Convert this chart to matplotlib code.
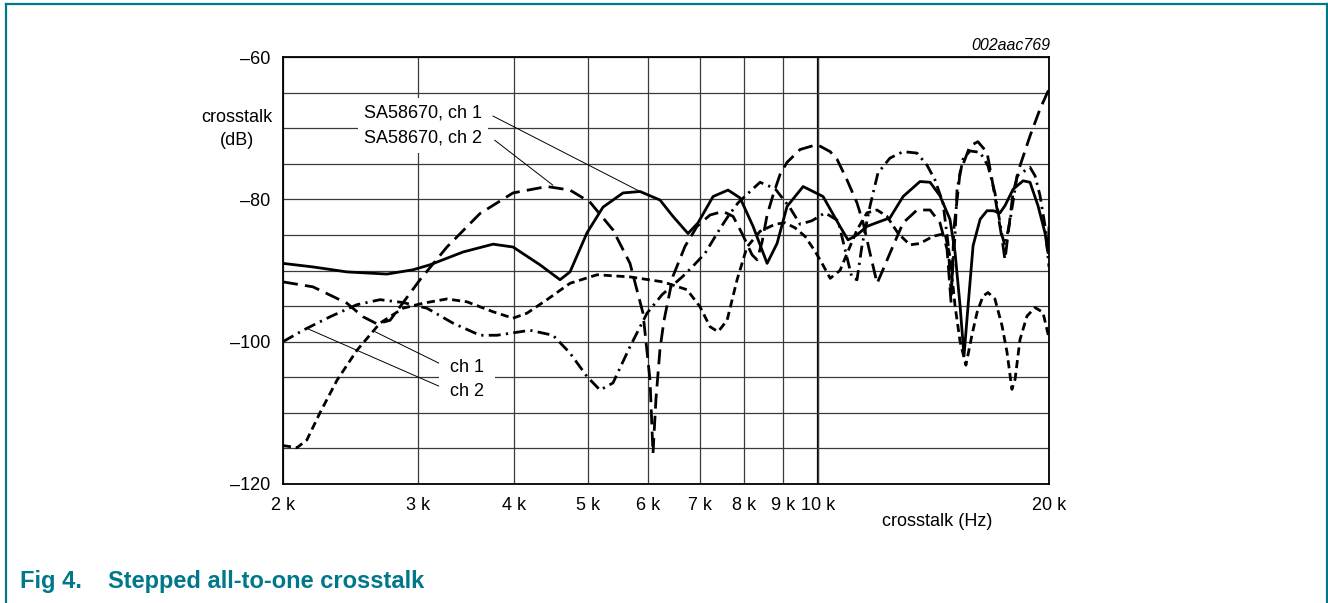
import matplotlib
matplotlib.use("Agg")
import matplotlib.pyplot as plt
from matplotlib.lines import Line2D
from matplotlib.ticker import FixedLocator, NullLocator

plt.rcParams['font.family'] = ['Liberation Sans', 'DejaVu Sans']

# frequency in kHz, crosstalk in dB

# SA58670, ch 1 (solid)
sa_ch1_f = [2.000, 2.189, 2.424, 2.734, 2.956, 3.111, 3.436, 3.761, 3.993, 4.330,
            4.599, 4.739, 4.988, 5.233, 5.558, 5.850, 6.212, 6.459, 6.757, 6.964,
            7.286, 7.621, 7.902, 8.217, 8.571, 8.831, 9.100, 9.551, 10.14, 10.67,
            10.93, 11.23, 11.57, 12.04, 12.40, 12.90, 13.57, 13.99, 14.41, 14.85,
            15.08, 15.31, 15.49, 15.68, 15.92, 16.26, 16.60, 16.90, 17.26, 17.52,
            17.95, 18.50, 18.89, 19.35, 19.76, 19.94, 20.0]
sa_ch1_db = [-89.0, -89.5, -90.2, -90.5, -89.9, -89.2, -87.4, -86.3, -86.7, -89.2,
             -91.3, -90.2, -84.7, -81.1, -79.1, -78.9, -80.1, -82.4, -84.8, -83.3,
             -79.6, -78.7, -79.8, -83.8, -89.0, -86.2, -81.0, -78.2, -79.6, -83.8,
             -85.7, -85.0, -83.8, -83.1, -82.6, -79.6, -77.5, -77.6, -79.5, -82.8,
             -87.5, -95.0, -102.0, -95.0, -86.5, -82.8, -81.6, -81.6, -81.9, -80.9,
             -78.6, -77.4, -77.6, -80.9, -84.7, -87.5, -84.0]

# SA58670, ch 2 (long dash)
sa_ch2_f = [2.000, 2.189, 2.424, 2.544, 2.653, 2.759, 3.019, 3.274, 3.615, 3.993,
            4.422, 4.739, 5.033, 5.393, 5.676, 5.902, 6.028, 6.082, 6.137, 6.212,
            6.287, 6.459, 6.697, 6.943, 7.219, 7.508, 7.738, 7.949, 8.192, 8.316,
            8.442, 8.571, 8.726, 8.911, 9.100, 9.463, 9.959, 10.36, 10.58, 10.90,
            11.23, 11.44, 11.68, 11.93, 12.14, 12.51, 12.90, 13.45, 13.99, 14.41,
            14.72, 14.90, 15.03, 15.31, 15.77, 16.15, 16.60, 16.85, 17.11, 17.37,
            17.52, 17.68, 17.95, 18.33, 18.89, 19.47, 20.0]
sa_ch2_db = [-91.6, -92.3, -94.6, -96.5, -97.5, -97.0, -91.3, -86.7, -82.0, -79.1,
             -78.2, -78.7, -80.4, -84.3, -89.0, -96.0, -105.4, -115.7, -108.0, -101.0,
             -97.0, -90.8, -86.6, -83.8, -82.2, -81.7, -82.4, -84.8, -87.8, -88.5,
             -86.0, -82.2, -79.4, -76.5, -74.8, -73.0, -72.3, -73.3, -74.4, -77.3,
             -80.5, -83.3, -87.6, -91.8, -89.9, -86.6, -83.3, -81.5, -81.5, -83.3,
             -87.0, -94.5, -84.0, -76.2, -72.5, -71.9, -73.4, -77.2, -81.4, -85.6,
             -88.5, -85.0, -79.1, -75.3, -71.1, -67.3, -64.5]

# ch 1 (short dash)
ch1_f = [2.000, 2.086, 2.149, 2.235, 2.353, 2.498, 2.677, 2.869, 3.046, 3.274,
         3.477, 3.761, 3.993, 4.164, 4.422, 4.739, 5.140, 5.676, 6.268, 6.737,
         7.006, 7.219, 7.397, 7.599, 7.831, 8.068, 8.390, 8.779, 9.045, 9.321,
         9.606, 9.899, 10.11, 10.36, 10.67, 10.90, 11.23, 11.57, 11.93, 12.29,
         12.71, 13.17, 13.57, 14.11, 14.63, 14.85, 15.08, 15.31, 15.58, 15.87,
         16.11, 16.40, 16.65, 17.00, 17.37, 17.63, 17.89, 18.06, 18.33, 18.72,
         19.18, 19.64, 20.0]
ch1_db = [-114.6, -114.9, -113.8, -110.0, -105.4, -101.2, -97.4, -95.3, -94.6, -94.0,
          -94.4, -95.8, -96.7, -96.0, -94.1, -91.8, -90.6, -90.9, -91.6, -92.7,
          -95.1, -97.9, -98.6, -97.0, -91.3, -86.7, -84.5, -83.5, -83.3, -84.0,
          -85.2, -87.3, -89.0, -91.1, -90.0, -87.6, -84.3, -81.9, -81.5, -82.4,
          -84.8, -86.4, -86.2, -85.2, -84.8, -88.0, -95.0, -100.0, -103.3, -99.0,
          -95.9, -93.6, -93.1, -94.0, -97.8, -101.5, -106.7, -105.3, -99.7, -96.4,
          -95.2, -95.9, -99.5]

# ch 2 (dash-dot)
ch2_f = [2.000, 2.124, 2.304, 2.498, 2.677, 2.869, 3.083, 3.334, 3.615, 3.805,
         4.202, 4.503, 4.739, 4.988, 5.187, 5.393, 5.676, 5.974, 6.250, 6.656,
         6.858, 7.110, 7.441, 7.621, 7.853, 8.143, 8.390, 8.779, 9.182, 9.463,
         9.811, 10.20, 10.61, 10.83, 11.06, 11.23, 11.40, 11.68, 11.96, 12.40,
         12.90, 13.45, 13.86, 14.20, 14.54, 14.76, 14.90, 15.08, 15.17, 15.44,
         15.77, 16.26, 16.65, 17.00, 17.37, 17.52, 17.79, 18.17, 18.89, 19.18,
         19.47, 19.76, 20.0]
ch2_db = [-100.0, -98.4, -96.5, -94.8, -94.1, -94.5, -95.3, -97.4, -99.1, -99.1,
          -98.4, -99.1, -101.6, -104.9, -106.8, -105.8, -100.7, -96.0, -93.4, -90.8,
          -89.4, -87.6, -84.1, -82.4, -80.5, -78.9, -77.6, -78.5, -81.2, -83.5,
          -83.0, -81.9, -83.0, -87.0, -91.0, -91.3, -86.5, -80.9, -76.3, -74.2,
          -73.3, -73.5, -75.2, -77.3, -80.5, -86.0, -93.0, -85.0, -78.6, -74.4,
          -73.2, -73.4, -75.3, -79.1, -85.1, -86.5, -83.0, -76.7, -75.5, -76.7,
          -79.5, -83.7, -89.5]

x_ticks = [2, 3, 4, 5, 6, 7, 8, 9, 10, 20]
x_labels = ["2 k", "3 k", "4 k", "5 k", "6 k", "7 k", "8 k", "9 k", "10 k", "20 k"]
y_ticks = [-120, -100, -80, -60]
y_labels = ["\u2013120", "\u2013100", "\u201380", "\u201360"]

W, H = 1328, 603
teal = "#00778B"


def fx(px):
    return px / W


def fy(py):
    return 1 - py / H


fig = plt.figure(figsize=(W / 100, H / 100), dpi=100)
ax = fig.add_axes([fx(283), fy(484), 766 / W, 427 / H])

ax.set_xscale("log")
ax.set_xlim(2, 20)
ax.set_ylim(-120, -60)

ax.xaxis.set_major_locator(FixedLocator(x_ticks))
ax.xaxis.set_minor_locator(NullLocator())
ax.set_xticklabels(x_labels)
ax.set_yticks(y_ticks)
ax.set_yticklabels(y_labels)
ax.yaxis.set_minor_locator(FixedLocator(list(range(-115, -60, 5))))
ax.tick_params(axis="both", which="both", length=0, labelsize=13)
ax.tick_params(axis="x", pad=9)
ax.tick_params(axis="y", pad=9)

ax.grid(True, which="both", color="#3a3a3a", linewidth=0.9)
ax.axvline(10, color="black", linewidth=1.6, zorder=1)
for s in ax.spines.values():
    s.set_linewidth(1.3)
    s.set_color("black")

lw = 2.0
ax.plot(sa_ch1_f, sa_ch1_db, color="black", lw=lw, linestyle="-", zorder=3)
ax.plot(sa_ch2_f, sa_ch2_db, color="black", lw=lw, linestyle=(0, (5.4, 2.6)), zorder=3)
ax.plot(ch1_f, ch1_db, color="black", lw=lw, linestyle=(0, (2.9, 1.7)), zorder=3)
ax.plot(ch2_f, ch2_db, color="black", lw=lw, linestyle=(0, (4.3, 1.9, 0.8, 1.9)), zorder=3)

# leader lines
ax.plot([3.76, 5.85], [-68.3, -78.9], color="black", lw=0.7, zorder=2)
ax.plot([3.78, 4.50], [-71.7, -78.0], color="black", lw=0.7, zorder=2)
ax.plot([3.235, 2.637], [-103.3, -98.6], color="black", lw=0.7, zorder=2)
ax.plot([3.235, 2.156], [-106.5, -98.2], color="black", lw=0.7, zorder=2)

box = dict(boxstyle="square,pad=0.35", fc="white", ec="none")
fig.text(fx(364), fy(113), "SA58670, ch 1", fontsize=13, va="center", ha="left", bbox=box)
fig.text(fx(364), fy(138), "SA58670, ch 2", fontsize=13, va="center", ha="left", bbox=box)
box2 = dict(boxstyle="square,pad=0.6", fc="white", ec="none")
fig.text(fx(450), fy(367), "ch 1", fontsize=13, va="center", ha="left", bbox=box2)
fig.text(fx(450), fy(391), "ch 2", fontsize=13, va="center", ha="left", bbox=box2)

fig.text(fx(237), fy(118), "crosstalk", fontsize=13, va="center", ha="center")
fig.text(fx(237), fy(140), "(dB)", fontsize=13, va="center", ha="center")
fig.text(fx(937), fy(522), "crosstalk (Hz)", fontsize=13, va="center", ha="center")
fig.text(fx(1050), fy(45), "002aac769", fontsize=11.5, style="italic",
         va="center", ha="right")

fig.text(fx(20), fy(588), "Fig 4.", fontsize=17, fontweight="bold", color=teal,
         va="baseline", ha="left")
fig.text(fx(108), fy(588), "Stepped all-to-one crosstalk", fontsize=17,
         fontweight="bold", color=teal, va="baseline", ha="left")

# frame around the figure
for xs, ys in [([6, 1327], [4, 4]), ([6, 6], [4, 603]), ([1327, 1327], [4, 603])]:
    fig.add_artist(Line2D([fx(v) for v in xs], [fy(v) for v in ys],
                          color=teal, linewidth=1.6))

fig.savefig("out.png", dpi=100, facecolor="white")
